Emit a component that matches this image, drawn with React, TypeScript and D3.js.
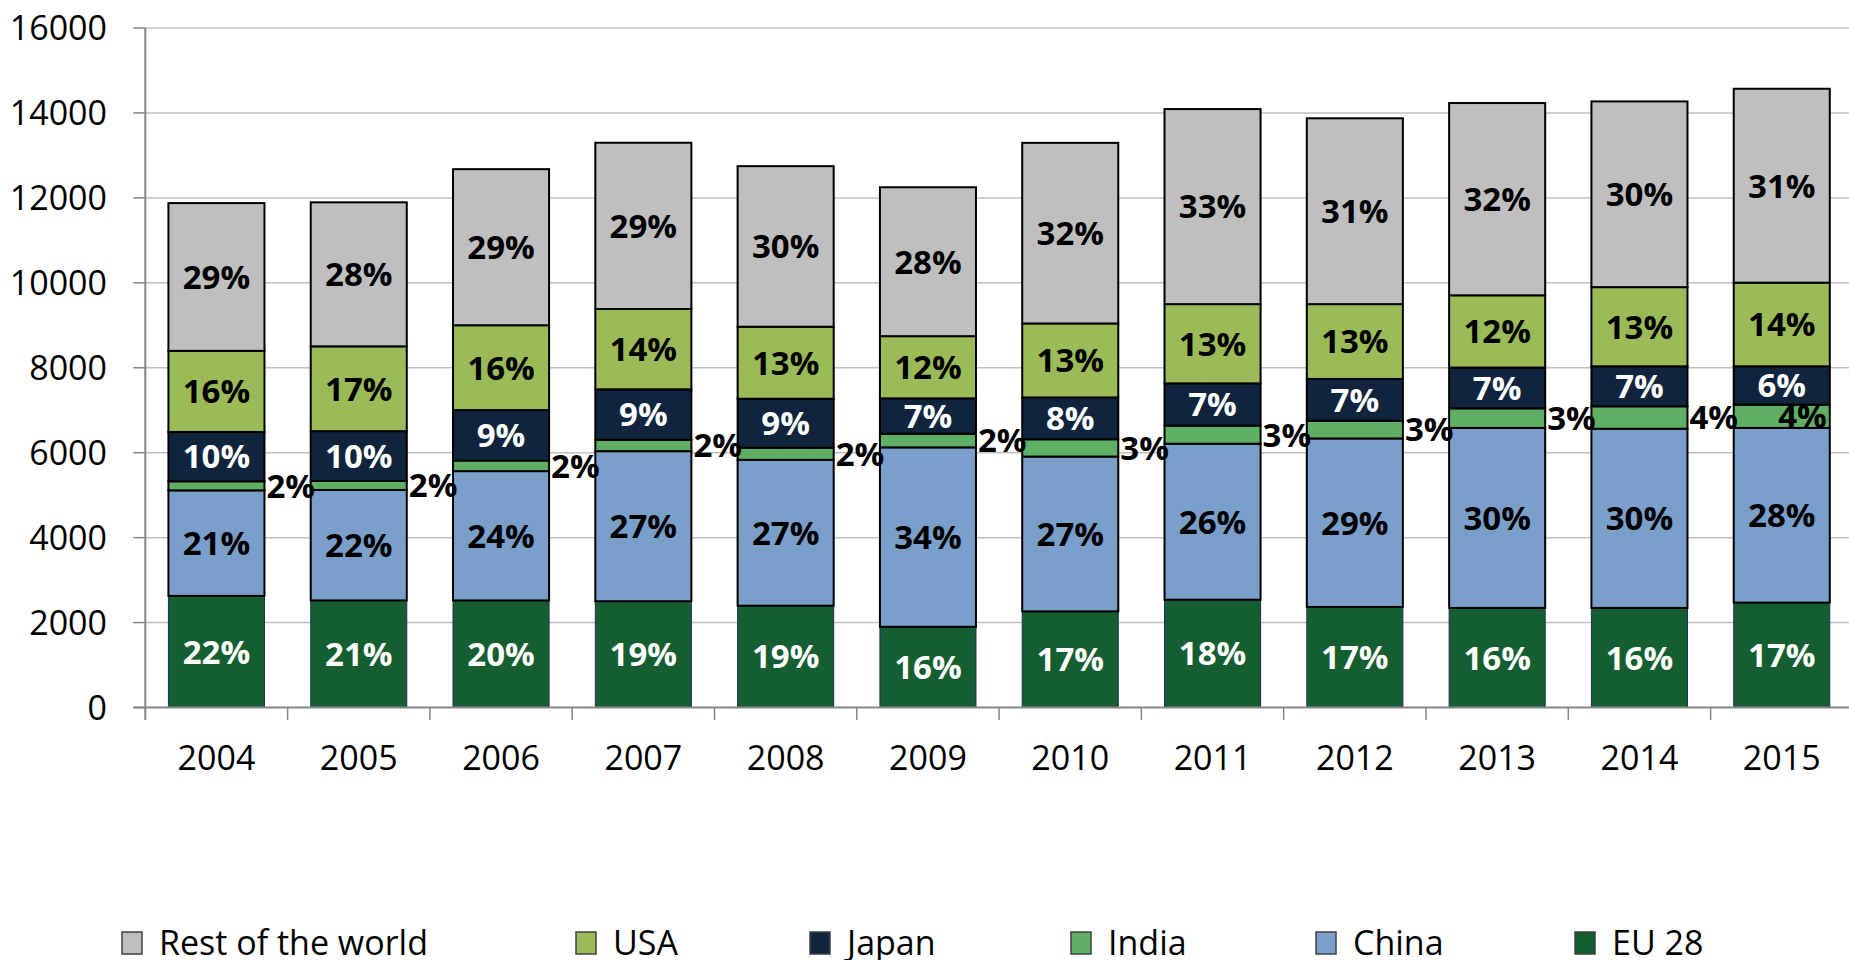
import React from 'react';
import * as d3 from 'd3';

const years = ['2004', '2005', '2006', '2007', '2008', '2009', '2010', '2011', '2012', '2013', '2014', '2015'];

// Series values (stacked from bottom: EU 28, China, India, Japan, USA, Rest of the world)
const eu28 = [2628, 2521, 2521, 2503, 2397, 1900, 2263, 2538, 2368, 2345, 2345, 2470];
const china = [2485, 2601, 3045, 3533, 3435, 4225, 3646, 3674, 3967, 4238, 4219, 4113];
const india = [213, 213, 248, 267, 284, 320, 407, 426, 417, 461, 528, 548];
const japan = [1163, 1172, 1190, 1189, 1154, 834, 985, 995, 985, 961, 942, 903];
const usa = [1909, 1997, 1997, 1891, 1696, 1465, 1742, 1865, 1761, 1701, 1864, 1970];
const rest = [3479, 3391, 3675, 3915, 3781, 3506, 4252, 4593, 4376, 4527, 4373, 4565];

// Data labels (shares, as printed)
const eu28Pct = [22, 21, 20, 19, 19, 16, 17, 18, 17, 16, 16, 17];
const chinaPct = [21, 22, 24, 27, 27, 34, 27, 26, 29, 30, 30, 28];
const indiaPct = [2, 2, 2, 2, 2, 2, 3, 3, 3, 3, 4, 4];
const japanPct = [10, 10, 9, 9, 9, 7, 8, 7, 7, 7, 7, 6];
const usaPct = [16, 17, 16, 14, 13, 12, 13, 13, 13, 12, 13, 14];
const restPct = [29, 28, 29, 29, 30, 28, 32, 33, 31, 32, 30, 31];

const yTicks = [0, 2000, 4000, 6000, 8000, 10000, 12000, 14000, 16000];

const seriesNames = ['EU 28', 'China', 'India', 'Japan', 'USA', 'Rest of the world'];
const seriesValues = [eu28, china, india, japan, usa, rest];
const seriesPcts = [eu28Pct, chinaPct, indiaPct, japanPct, usaPct, restPct];
const seriesColors = ['#155e31', '#7a9fcb', '#5faf64', '#10243e', '#9bbb59', '#bfbfbf'];
const labelColors = ['#ffffff', '#000000', '#000000', '#ffffff', '#000000', '#000000'];

// legend order (as shown) and layout x positions
const legendOrder = ['Rest of the world', 'USA', 'Japan', 'India', 'China', 'EU 28'];
const legendX = [122, 576, 810, 1071, 1316, 1575];

const W = 1849;
const H = 960;
const left = 145.3;
const step = 142.3;
const right = left + step * years.length;
const top = 28;
const bottom = 707.5;
const FONT = "'Open Sans', 'Liberation Sans', sans-serif";

export default function App() {
  const x = d3.scaleBand<string>().domain(years).range([left, right]).paddingInner(0.325).paddingOuter(0.1625);
  const y = d3.scaleLinear().domain([0, 16000]).range([bottom, top]);

  const table = years.map((yr, i) => {
    const row: any = { year: yr };
    seriesNames.forEach((s, k) => (row[s] = seriesValues[k][i]));
    return row;
  });
  const stacked = d3.stack<any>().keys(seriesNames)(table);
  const bw = x.bandwidth();

  return (
    <svg width={W} height={H} style={{ position: 'absolute', left: 0, top: 0, display: 'block', background: '#fff' }}>
      {/* gridlines */}
      {yTicks.filter((t) => t > 0).map((t) => (
        <line key={'g' + t} x1={left} x2={right} y1={y(t)} y2={y(t)} stroke="#c0c0c0" strokeWidth={1.5} />
      ))}
      {/* y tick marks */}
      {yTicks.map((t) => (
        <line key={'yt' + t} x1={left - 12} x2={left} y1={y(t)} y2={y(t)} stroke="#868686" strokeWidth={1.5} />
      ))}
      {/* y tick labels */}
      {yTicks.map((t) => (
        <text key={'yl' + t} x={107} y={y(t)} dy="0.36em" textAnchor="end" fontFamily={FONT} fontSize={34} fill="#000">
          {t}
        </text>
      ))}
      {/* bars */}
      {stacked.map((layer, k) => (
        <g key={'s' + k}>
          {layer.map((d, i) => (
            <rect
              key={i}
              x={x(years[i])!}
              y={y(d[1])}
              width={bw}
              height={y(d[0]) - y(d[1])}
              fill={seriesColors[k]}
              stroke={k === 0 ? '#1f2f55' : '#000'}
              strokeWidth={k === 0 ? 1 : 2}
            />
          ))}
        </g>
      ))}
      {/* axes */}
      <line x1={left} x2={left} y1={top} y2={bottom + 12.5} stroke="#868686" strokeWidth={2} />
      <line x1={left - 12} x2={right} y1={bottom} y2={bottom} stroke="#868686" strokeWidth={2} />
      {d3.range(1, years.length + 1).map((i) => (
        <line key={'xt' + i} x1={left + i * step} x2={left + i * step} y1={bottom} y2={bottom + 12.5} stroke="#868686" strokeWidth={1.5} />
      ))}
      {/* x labels */}
      {years.map((yr) => (
        <text key={'xl' + yr} x={x(yr)! + bw / 2} y={770} textAnchor="middle" fontFamily={FONT} fontSize={34} fill="#000">
          {yr}
        </text>
      ))}
      {/* data labels */}
      {stacked.map((layer, k) => (
        <g key={'l' + k}>
          {layer.map((d, i) => {
            const cy = (y(d[0]) + y(d[1])) / 2;
            const isIndia = seriesNames[k] === 'India';
            const last = i === years.length - 1;
            let lx = x(years[i])! + bw / 2;
            let anchor: any = 'middle';
            if (isIndia) {
              if (last) {
                lx = x(years[i])! + bw - 3;
                anchor = 'end';
              } else {
                lx = x(years[i])! + bw + 2;
                anchor = 'start';
              }
            }
            return (
              <text
                key={i}
                x={lx}
                y={cy}
                dy="0.36em"
                textAnchor={anchor}
                fontFamily={FONT}
                fontWeight="bold"
                fontSize={33}
                fill={labelColors[k]}
              >
                {seriesPcts[k][i] + '%'}
              </text>
            );
          })}
        </g>
      ))}
      {/* legend */}
      {legendOrder.map((name, j) => {
        const k = seriesNames.indexOf(name);
        return (
          <g key={'lg' + name}>
            <rect x={legendX[j]} y={932} width={20} height={22} fill={seriesColors[k]} stroke="#404040" strokeWidth={1.5} />
            <text x={legendX[j] + 37} y={955} fontFamily={FONT} fontSize={34} fill="#000">
              {name}
            </text>
          </g>
        );
      })}
    </svg>
  );
}
